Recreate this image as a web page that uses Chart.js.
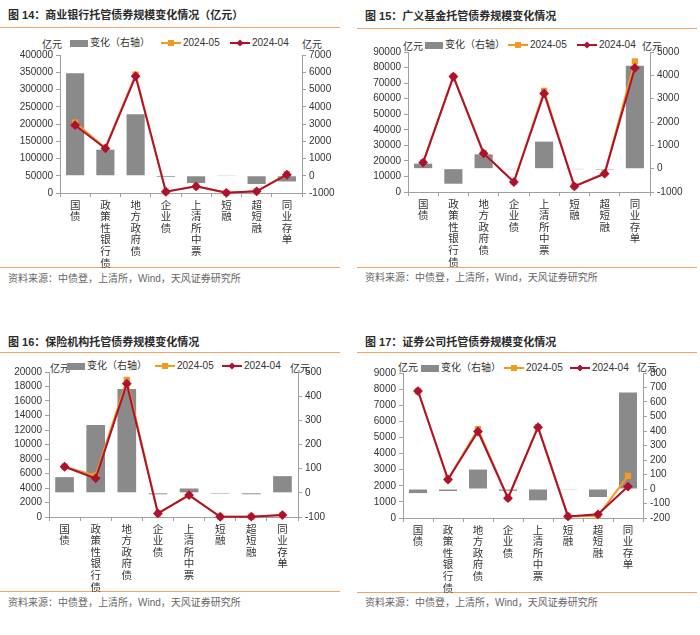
<!DOCTYPE html>
<html>
<head>
<meta charset="utf-8">
<script src="https://cdn.jsdelivr.net/npm/chart.js@4.4.1/dist/chart.umd.min.js"></script>
<style>
  body { margin: 0; background: #fff; width: 700px; height: 635px; position: relative; overflow: hidden;
         font-family: "Liberation Sans", "Noto Sans CJK SC", sans-serif; color: #333; }
  .abs { position: absolute; white-space: nowrap; }
  .title { font-size: 11px; font-weight: bold; line-height: 14px; color: #2b2b2b; }
  .rule { height: 0; border-top: 1.5px solid #f2a463; }
  .source { font-size: 10px; line-height: 14px; color: #666; }
  .unit { font-size: 10px; line-height: 12px; color: #333; }
  .leg { font-size: 10px; line-height: 12px; display: flex; align-items: center; }
  .sw { position: relative; display: inline-block; margin-right: 2px; }
</style>
</head>
<body>
<script>
const categoryNames = ['国债', '政策性银行债', '地方政府债', '企业债', '上清所中票', '短融', '超短融', '同业存单'];
const seriesNames = ['变化（右轴）', '2024-05', '2024-04'];
const sourceText = '资料来源：中债登，上清所，Wind，天风证券研究所';

// 图14 商业银行
const bankChange = [5940, 1510, 3570, -70, -420, 40, -480, -330];
const bankMay = [204300, 130500, 343100, 3800, 19300, 700, 5000, 55000];
const bankApr = [196600, 129200, 338300, 3700, 19200, 500, 4800, 53000];
const bankLeftRange = [0, 400000, 50000];
const bankRightRange = [-1000, 7000, 1000];

// 图15 广义基金
const fundChange = [215, -645, 614, -10, 1160, -10, -40, 4410];
const fundMay = [19000, 74300, 25000, 6500, 65000, 3700, 11900, 84000];
const fundApr = [18900, 74200, 24800, 6400, 63300, 3600, 11800, 79700];
const fundLeftRange = [0, 90000, 10000];
const fundRightRange = [-1000, 5000, 1000];

// 图16 保险机构
const insChange = [65, 281, 430, -6, 18, -4, -6, 69];
const insMay = [6940, 5700, 18900, 510, 3030, 40, 40, 290];
const insApr = [6930, 5330, 18390, 500, 3020, 30, 40, 260];
const insLeftRange = [0, 20000, 2000];
const insRightRange = [-100, 500, 100];

// 图17 证券公司
const secChange = [-28, -14, 134, -12, -78, -2, -55, 665];
const secMay = [7880, 2400, 5515, 1235, 5640, 100, 140, 2610];
const secApr = [7880, 2390, 5370, 1230, 5640, 100, 227, 1950];
const secLeftRange = [0, 9000, 1000];
const secRightRange = [-200, 800, 100];

const barColor = '#8a8a8a';
const mayColor = '#f39a1e';
const aprColor = '#ad1230';
const axisColor = '#a0a0a0';

function el(cls, x, y, text) {
    const d = document.createElement('div');
    d.className = 'abs ' + cls;
    d.style.left = x + 'px';
    d.style.top = y + 'px';
    if (text != null) d.textContent = text;
    document.body.appendChild(d);
    return d;
}

function legendItem(x, y, kind, color, label) {
    const d = el('leg', x, y - 6);
    const sw = document.createElement('span');
    sw.className = 'sw';
    if (kind === 'bar') {
        sw.style.cssText += 'width:18px;height:7px;background:' + color + ';';
    } else {
        sw.style.cssText += 'width:20px;height:8px;';
        const line = document.createElement('span');
        line.style.cssText = 'position:absolute;left:0;top:3px;width:20px;height:2px;background:' + color + ';';
        const mk = document.createElement('span');
        mk.style.cssText = 'position:absolute;left:7px;top:1px;width:6px;height:6px;background:' + color + ';' +
            (kind === 'diamond' ? 'transform:rotate(45deg) scale(0.85);' : '');
        sw.appendChild(line);
        sw.appendChild(mk);
    }
    d.appendChild(sw);
    d.appendChild(document.createTextNode(label));
}

function makePanel(p, title, change, may, apr, leftRange, rightRange) {
    el('title', p.left + p.titleX, p.top + p.titleY - 7, title);
    const r1 = el('rule', p.left + p.ruleX, p.top + p.ruleTop);
    r1.style.width = p.ruleW + 'px';
    const r2 = el('rule', p.left + p.ruleX, p.top + p.ruleBot);
    r2.style.width = p.ruleW + 'px';
    el('source', p.left + p.titleX, p.top + p.srcY - 7, sourceText);

    el('unit', p.left + p.unitL[0], p.top + p.unitL[1] - 6, '亿元');
    el('unit', p.left + p.unitR[0], p.top + p.unitR[1] - 6, '亿元');
    legendItem(p.left + p.legX[0], p.top + p.legY, 'bar', barColor, seriesNames[0]);
    legendItem(p.left + p.legX[1], p.top + p.legY, 'square', mayColor, seriesNames[1]);
    legendItem(p.left + p.legX[2], p.top + p.legY, 'diamond', aprColor, seriesNames[2]);

    const canvasTop = 35, canvasH = 240;
    const canvas = document.createElement('canvas');
    canvas.width = 350;
    canvas.height = canvasH;
    canvas.style.cssText = 'position:absolute;left:' + p.left + 'px;top:' + (p.top + canvasTop) + 'px;';
    document.body.appendChild(canvas);

    const tickFont = { family: '"Liberation Sans", "Noto Sans CJK SC", sans-serif', size: 10 };
    const yAxis = (pos, range, width) => ({
        type: 'linear',
        position: pos,
        min: range[0],
        max: range[1],
        ticks: { stepSize: range[2], color: '#333', font: tickFont, padding: 3, autoSkip: false,
                 callback: (v) => String(v) },
        grid: { drawOnChartArea: false, tickLength: 4, color: axisColor },
        border: { color: axisColor },
        afterFit: (s) => { s.width = width; }
    });

    new Chart(canvas, {
        data: {
            labels: categoryNames.map(s => s.split('')),
            datasets: [
                { type: 'line', label: seriesNames[2], data: apr, yAxisID: 'y', order: 0,
                  borderColor: aprColor, backgroundColor: aprColor, borderWidth: 2,
                  pointStyle: 'rectRot', pointRadius: 3.5, clip: false },
                { type: 'line', label: seriesNames[1], data: may, yAxisID: 'y', order: 1,
                  borderColor: mayColor, backgroundColor: mayColor, borderWidth: 2,
                  pointStyle: 'rect', pointRadius: 3, clip: false },
                { type: 'bar', label: seriesNames[0], data: change, yAxisID: 'y1', order: 2,
                  backgroundColor: barColor, categoryPercentage: 1, barPercentage: 0.6 }
            ]
        },
        options: {
            responsive: false,
            animation: false,
            layout: { padding: { top: p.plotT - canvasTop, left: 0, right: 0, bottom: 0 } },
            plugins: { legend: { display: false }, tooltip: { enabled: false } },
            scales: {
                x: {
                    offset: true,
                    ticks: { color: '#333', font: { family: '"Noto Sans CJK SC", sans-serif', size: 10.5, lineHeight: 1.1 },
                             maxRotation: 0, minRotation: 0, autoSkip: false, padding: 2 },
                    grid: { drawOnChartArea: false, tickLength: 4, color: axisColor, offset: true },
                    border: { color: axisColor },
                    afterFit: (s) => { s.height = canvasH - (p.plotB - canvasTop); }
                },
                y: yAxis('left', leftRange, p.plotL),
                y1: yAxis('right', rightRange, 350 - p.plotR)
            }
        }
    });
}

makePanel({ left: 0, top: 0, titleX: 8, titleY: 15, ruleX: 0, ruleW: 340, ruleTop: 27, ruleBot: 267, srcY: 279,
            legY: 43, legX: [70, 161, 230], unitL: [42, 45], unitR: [302, 45],
            plotL: 60, plotR: 302, plotT: 55, plotB: 193 },
          '图 14：商业银行托管债券规模变化情况（亿元）', bankChange, bankMay, bankApr, bankLeftRange, bankRightRange);

makePanel({ left: 350, top: 0, titleX: 15, titleY: 16, ruleX: 7, ruleW: 340, ruleTop: 28, ruleBot: 267, srcY: 278,
            legY: 45, legX: [75, 158, 227], unitL: [53, 47], unitR: [292, 47],
            plotL: 58, plotR: 300, plotT: 52, plotB: 192 },
          '图 15：广义基金托管债券规模变化情况', fundChange, fundMay, fundApr, fundLeftRange, fundRightRange);

makePanel({ left: 0, top: 320, titleX: 8, titleY: 22, ruleX: 0, ruleW: 340, ruleTop: 32, ruleBot: 271, srcY: 283,
            legY: 46, legX: [67, 155, 222], unitL: [50, 49], unitR: [290, 49],
            plotL: 49, plotR: 298, plotT: 52, plotB: 197 },
          '图 16：保险机构托管债券规模变化情况', insChange, insMay, insApr, insLeftRange, insRightRange);

makePanel({ left: 350, top: 320, titleX: 15, titleY: 22, ruleX: 7, ruleW: 340, ruleTop: 32, ruleBot: 272, srcY: 283,
            legY: 48, legX: [71, 154, 220], unitL: [48, 48], unitR: [287, 48],
            plotL: 53, plotR: 293, plotT: 53, plotB: 198 },
          '图 17：证券公司托管债券规模变化情况', secChange, secMay, secApr, secLeftRange, secRightRange);
</script>
</body>
</html>
